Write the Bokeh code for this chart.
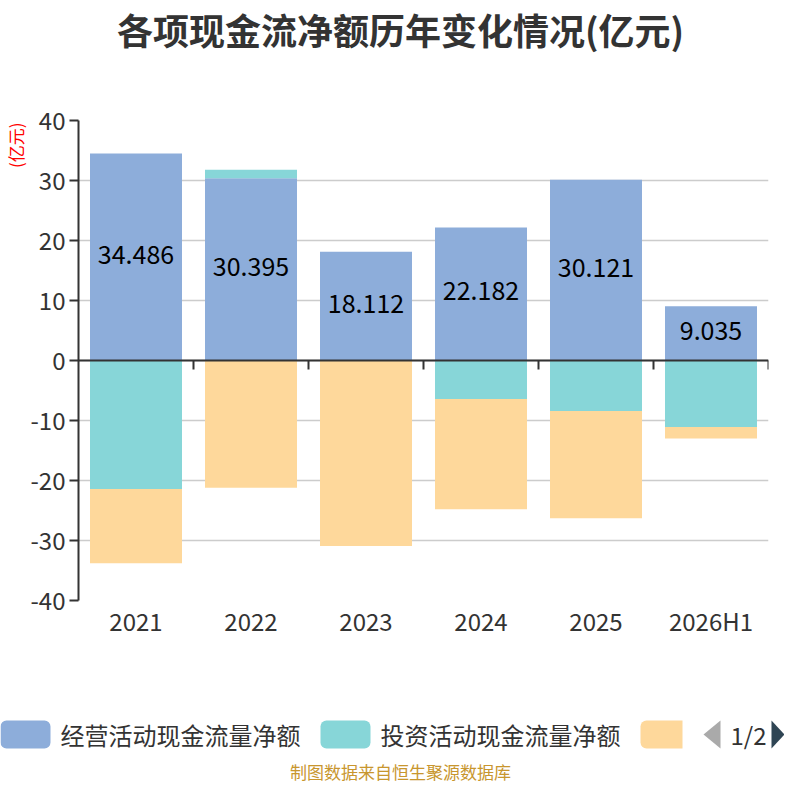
from bokeh.plotting import figure
from bokeh.layouts import column
from bokeh.models import Range1d, FixedTicker, Span, Title, ColumnDataSource
from bokeh.core.properties import value
from bokeh.embed import file_html
from bokeh.resources import INLINE

# ---------------- data ----------------
categories = ["2021", "2022", "2023", "2024", "2025", "2026H1"]
operating = [34.486, 30.395, 18.112, 22.182, 30.121, 9.035]
investing = [-21.4, 1.4, -0.1, -6.4, -8.4, -11.1]
financing = [-12.4, -21.2, -30.8, -18.4, -17.9, -1.9]
series_names = ["经营活动现金流量净额", "投资活动现金流量净额", "筹资活动现金流量净额"]
colors = ["#8DADDA", "#87D6D8", "#FED89B"]
title_text = "各项现金流净额历年变化情况(亿元)"
unit_text = "(亿元)"
source_text = "制图数据来自恒生聚源数据库"
y_ticks = [-40, -30, -20, -10, 0, 10, 20, 30, 40]
y_tick_labels = ["-40", "-30", "-20", "-10", "0", "10", "20", "30", "40"]

FONT = "Noto Sans CJK SC"
W = 784

# ---------------- title figure ----------------
ft = figure(width=W, height=100, x_range=Range1d(0, W), y_range=Range1d(0, 100),
            output_backend="svg", toolbar_location=None, min_border=0)
ft.frame_align = False
ft.axis.visible = False
ft.grid.visible = False
ft.outline_line_color = None
ft.text(x=[400], y=[72], text=[title_text], text_font=value(FONT),
        text_font_size="36px", text_font_style="bold", text_color="#333333",
        text_align="center", text_baseline="middle")

# ---------------- main chart ----------------
n = len(categories)
xs = [i + 0.5 for i in range(n)]

p = figure(width=W, height=560, x_range=Range1d(0, n), y_range=Range1d(-40, 40),
           output_backend="svg", toolbar_location=None,
           min_border_left=78, min_border_right=16, min_border_top=20,
           min_border_bottom=60)
p.frame_align = False
p.outline_line_color = None
p.xgrid.visible = False
p.ygrid.ticker = FixedTicker(ticks=y_ticks)
p.ygrid.grid_line_color = "#CCCCCC"
p.ygrid.grid_line_width = 1.5

pos_base = [0.0] * n
neg_base = [0.0] * n
for vals, col in zip([operating, investing, financing], colors):
    bottoms, tops = [], []
    for i, v in enumerate(vals):
        if v >= 0:
            b = pos_base[i]
            t = b + v
            pos_base[i] = t
        else:
            t = neg_base[i]
            b = t + v
            neg_base[i] = b
        bottoms.append(b)
        tops.append(t)
    src = ColumnDataSource(dict(x=xs, top=tops, bottom=bottoms))
    p.vbar(x="x", top="top", bottom="bottom", width=0.8, source=src,
           fill_color=col, line_color=None)

# value labels on operating bars
lab_src = ColumnDataSource(dict(x=xs, y=[v / 2 for v in operating],
                                t=["%.3f" % v for v in operating]))
p.text(x="x", y="y", text="t", source=lab_src, text_font=value(FONT),
       text_font_size="25px", text_color="#000000", text_align="center",
       text_baseline="middle", y_offset=-3)

# zero axis line with category boundary ticks
p.add_layout(Span(location=0, dimension="width", line_color="#333333", line_width=2))
bounds = [i + 1 for i in range(n)]
p.segment(x0=bounds, y0=[0] * n, x1=bounds, y1=[-1.5] * n,
          line_color="#333333", line_width=2)

# axes
p.yaxis.ticker = FixedTicker(ticks=y_ticks)
p.yaxis.major_label_overrides = {t: s for t, s in zip(y_ticks, y_tick_labels)}
p.yaxis.axis_line_color = "#333333"
p.yaxis.axis_line_width = 2
p.yaxis.major_tick_line_color = "#333333"
p.yaxis.major_tick_line_width = 2
p.yaxis.major_tick_out = 9
p.yaxis.major_tick_in = 0
p.yaxis.minor_tick_line_color = None
p.yaxis.major_label_standoff = 4
p.yaxis.major_label_text_font = FONT
p.yaxis.major_label_text_font_size = "24px"
p.yaxis.major_label_text_color = "#333333"

p.xaxis.ticker = FixedTicker(ticks=xs)
p.xaxis.major_label_overrides = {x: c for x, c in zip(xs, categories)}
p.xaxis.axis_line_color = None
p.xaxis.major_tick_line_color = None
p.xaxis.major_tick_out = 0
p.xaxis.major_tick_in = 0
p.xaxis.minor_tick_line_color = None
p.xaxis.major_label_standoff = 2
p.xaxis.major_label_text_font = FONT
p.xaxis.major_label_text_font_size = "24px"
p.xaxis.major_label_text_color = "#333333"

p.add_layout(Title(text=unit_text, align="right", text_font=FONT,
                   text_font_size="17px", text_font_style="normal",
                   text_color="#FF0000", offset=2, standoff=0), "left")

# ---------------- legend + footer ----------------
fl = figure(width=W, height=124, x_range=Range1d(0, W), y_range=Range1d(0, 124),
            output_backend="svg", toolbar_location=None, min_border=0)
fl.frame_align = False
fl.axis.visible = False
fl.grid.visible = False
fl.outline_line_color = None

ly = 50
fl.quad(left=[0], right=[50], bottom=[ly - 14], top=[ly + 14], fill_color=colors[0],
        line_color=None, border_radius=6)
fl.quad(left=[320], right=[370], bottom=[ly - 14], top=[ly + 14], fill_color=colors[1],
        line_color=None, border_radius=6)
fl.quad(left=[640], right=[682], bottom=[ly - 14], top=[ly + 14], fill_color=colors[2],
        line_color=None, border_radius=(6, 0, 0, 6))
fl.text(x=[60, 380], y=[ly, ly], text=series_names[:2], text_font=value(FONT),
        text_font_size="24px", text_color="#333333", text_align="left",
        text_baseline="middle")
# pager
fl.patch(x=[703, 720, 720], y=[ly, ly + 14, ly - 14], fill_color="#AAAAAA", line_color=None)
fl.text(x=[748], y=[ly], text=["1/2"], text_font=value(FONT), text_font_size="24px",
        text_color="#333333", text_align="center", text_baseline="middle")
fl.patch(x=[771, 784, 771], y=[ly + 14, ly, ly - 14], fill_color="#2F4554", line_color=None)

fl.text(x=[400], y=[13], text=[source_text], text_font=value(FONT),
        text_font_size="17px", text_color="#C8962E", text_align="center",
        text_baseline="middle")

layout = column(ft, p, fl, spacing=0)
open("out.html", "w").write(file_html(layout, INLINE))
